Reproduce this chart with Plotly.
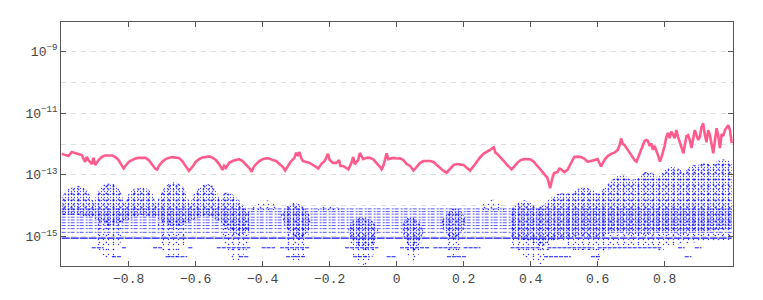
import plotly.graph_objects as go

# ---- pink error curve (x, log10 value) ----
pink_x = [-1.000,-0.990,-0.980,-0.970,-0.960,-0.950,-0.940,-0.930,-0.925,-0.920,-0.910,-0.905,-0.900,-0.890,-0.880,
          -0.870,-0.860,-0.850,-0.840,-0.830,-0.820,-0.815,-0.810,-0.800,-0.790,-0.780,-0.770,-0.760,-0.750,-0.740,
          -0.730,-0.720,-0.715,-0.710,-0.700,-0.690,-0.680,-0.670,-0.660,-0.650,-0.640,-0.630,-0.620,-0.610,-0.600,
          -0.590,-0.580,-0.570,-0.560,-0.550,-0.540,-0.530,-0.520,-0.515,-0.510,-0.500,-0.490,-0.480,-0.470,-0.460,
          -0.450,-0.440,-0.433,-0.425,-0.410,-0.400,-0.390,-0.380,-0.370,-0.360,-0.350,-0.340,-0.333,-0.325,-0.315,
          -0.305,-0.300,-0.295,-0.290,-0.285,-0.280,-0.270,-0.260,-0.250,-0.240,-0.234,-0.225,-0.215,-0.205,-0.200,
          -0.190,-0.180,-0.172,-0.168,-0.160,-0.150,-0.144,-0.135,-0.130,-0.125,-0.115,-0.110,-0.100,-0.090,-0.080,
          -0.070,-0.060,-0.050,-0.045,-0.040,-0.035,-0.030,-0.025,-0.010,0.000,0.010,0.020,0.030,0.040,0.050,
          0.060,0.070,0.080,0.090,0.100,0.110,0.120,0.130,0.140,0.149,0.160,0.170,0.180,0.190,0.200,
          0.210,0.219,0.230,0.240,0.250,0.260,0.270,0.280,0.290,0.295,0.300,0.310,0.320,0.330,0.343,
          0.350,0.360,0.370,0.380,0.390,0.400,0.410,0.420,0.430,0.440,0.450,0.455,0.458,0.465,0.470,
          0.480,0.485,0.490,0.500,0.510,0.520,0.530,0.540,0.550,0.560,0.570,0.580,0.590,0.600,0.610,
          0.620,0.630,0.640,0.650,0.660,0.665,0.670,0.675,0.680,0.690,0.700,0.710,0.716,0.720,0.730,
          0.740,0.745,0.750,0.755,0.760,0.765,0.770,0.780,0.786,0.790,0.800,0.805,0.810,0.815,0.820,
          0.830,0.835,0.840,0.850,0.856,0.860,0.865,0.870,0.875,0.880,0.885,0.890,0.900,0.905,0.910,
          0.915,0.920,0.925,0.930,0.935,0.945,0.950,0.955,0.960,0.965,0.970,0.975,0.980,0.990,0.995,1.000]
pink_log = [-12.32,-12.36,-12.39,-12.26,-12.29,-12.32,-12.36,-12.58,-12.42,-12.52,-12.65,-12.45,-12.68,-12.52,-12.42,
            -12.37,-12.36,-12.37,-12.42,-12.52,-12.71,-12.79,-12.71,-12.58,-12.52,-12.47,-12.45,-12.44,-12.45,-12.52,
            -12.65,-12.81,-12.83,-12.71,-12.58,-12.49,-12.45,-12.42,-12.44,-12.45,-12.55,-12.71,-12.87,-12.74,-12.58,
            -12.49,-12.44,-12.42,-12.40,-12.44,-12.52,-12.65,-12.84,-12.71,-12.78,-12.61,-12.55,-12.52,-12.49,-12.55,
            -12.65,-12.78,-12.90,-12.71,-12.55,-12.49,-12.46,-12.47,-12.52,-12.55,-12.65,-12.74,-12.86,-12.71,-12.55,
            -12.45,-12.28,-12.36,-12.26,-12.45,-12.55,-12.58,-12.61,-12.68,-12.74,-12.79,-12.65,-12.55,-12.32,-12.52,
            -12.61,-12.61,-12.52,-12.71,-12.71,-12.78,-12.82,-12.61,-12.42,-12.65,-12.52,-12.29,-12.49,-12.45,-12.45,
            -12.50,-12.61,-12.74,-12.82,-12.71,-12.52,-12.30,-12.49,-12.45,-12.47,-12.46,-12.52,-12.65,-12.71,-12.86,
            -12.74,-12.61,-12.55,-12.54,-12.55,-12.58,-12.68,-12.78,-12.87,-12.93,-12.78,-12.68,-12.65,-12.66,-12.68,
            -12.78,-12.86,-12.71,-12.55,-12.42,-12.31,-12.23,-12.18,-12.11,-12.29,-12.32,-12.42,-12.55,-12.68,-12.82,
            -12.74,-12.61,-12.52,-12.49,-12.49,-12.50,-12.58,-12.71,-12.84,-12.97,-13.10,-13.29,-13.43,-13.10,-12.94,
            -12.91,-12.80,-12.81,-12.91,-12.84,-12.61,-12.42,-12.41,-12.42,-12.47,-12.58,-12.55,-12.52,-12.49,-12.73,
            -12.52,-12.39,-12.32,-12.28,-12.19,-12.06,-11.82,-12.00,-12.03,-12.19,-12.36,-12.52,-12.57,-12.45,-12.13,
            -11.90,-11.87,-11.90,-12.06,-11.98,-12.19,-12.06,-12.36,-12.57,-12.45,-12.06,-11.77,-11.64,-11.81,-11.60,
            -11.81,-11.55,-11.77,-12.13,-12.30,-12.06,-11.74,-11.71,-11.87,-12.13,-11.81,-11.55,-11.87,-11.77,-11.45,
            -11.33,-11.71,-11.94,-11.55,-11.71,-12.30,-11.81,-11.49,-11.74,-12.13,-11.68,-11.74,-11.55,-11.39,-11.55,-11.97]

# ---- blue rounding-error cloud: dense regions (x, log10 value) ----
dense_polys = [
    [(-0.998,-13.68),(-0.98,-13.46),(-0.96,-13.36),(-0.94,-13.36),(-0.925,-13.49),(-0.912,-13.75),(-0.905,-13.88),
     (-0.895,-13.62),(-0.88,-13.36),(-0.865,-13.26),(-0.85,-13.27),(-0.835,-13.36),(-0.822,-13.60),(-0.813,-13.94),
     (-0.80,-13.62),(-0.785,-13.46),(-0.765,-13.42),(-0.745,-13.44),(-0.73,-13.58),(-0.718,-13.94),(-0.705,-13.62),
     (-0.69,-13.36),(-0.67,-13.23),(-0.65,-13.27),(-0.635,-13.42),(-0.622,-13.80),(-0.615,-13.90),(-0.605,-13.60),
     (-0.585,-13.36),(-0.565,-13.29),(-0.548,-13.36),(-0.535,-13.60),(-0.527,-13.85),(-0.515,-13.58),(-0.50,-13.55),
     (-0.48,-13.72),(-0.46,-13.97),(-0.44,-14.20),
     (-0.44,-14.85),(-0.48,-14.98),(-0.525,-14.52),(-0.57,-14.30),(-0.62,-14.52),(-0.665,-14.72),(-0.714,-14.40),
     (-0.765,-14.30),(-0.815,-14.52),(-0.86,-14.65),(-0.903,-14.40),(-0.95,-14.30),(-0.998,-14.30)],
    [(-0.345,-14.30),(-0.33,-14.04),(-0.31,-13.91),(-0.29,-13.94),(-0.27,-14.14),(-0.255,-14.40),(-0.265,-14.85),(-0.29,-15.11),(-0.31,-14.98),(-0.335,-14.62)],
    [(-0.145,-14.72),(-0.13,-14.46),(-0.11,-14.36),(-0.09,-14.40),(-0.07,-14.52),(-0.055,-14.78),(-0.065,-15.20),(-0.09,-15.43),(-0.12,-15.30),(-0.14,-15.04)],
    [(0.015,-14.62),(0.03,-14.40),(0.05,-14.36),(0.07,-14.52),(0.08,-14.85),(0.065,-15.27),(0.05,-15.50),(0.035,-15.27),(0.02,-14.95)],
    [(0.135,-14.52),(0.15,-14.20),(0.17,-14.07),(0.19,-14.14),(0.205,-14.40),(0.20,-14.78),(0.18,-15.11),(0.16,-15.04),(0.14,-14.78)],
    [(0.34,-14.14),(0.36,-13.91),(0.38,-13.81),(0.40,-13.91),(0.42,-14.07),(0.44,-13.97),(0.46,-13.75),(0.48,-13.62),(0.50,-13.59),
     (0.52,-13.62),(0.54,-13.46),(0.56,-13.39),(0.58,-13.46),(0.60,-13.62),(0.62,-13.42),(0.64,-13.17),(0.66,-13.04),(0.68,-13.00),
     (0.70,-13.17),(0.72,-13.10),(0.74,-12.91),(0.76,-12.91),(0.78,-13.10),(0.80,-12.84),(0.82,-12.74),(0.84,-12.78),(0.86,-12.91),
     (0.88,-12.68),(0.90,-12.68),(0.92,-12.58),(0.94,-12.71),(0.96,-12.52),(0.98,-12.49),(1.00,-12.58),
     (1.00,-14.72),(0.95,-14.78),(0.90,-14.85),(0.85,-14.91),(0.80,-14.85),(0.75,-14.91),(0.70,-14.91),(0.65,-14.85),(0.60,-15.04),
     (0.55,-14.98),(0.50,-15.04),(0.45,-15.17),(0.435,-15.43),(0.42,-15.24),(0.38,-15.11),(0.34,-15.04)],
]

# ---- blue sparse regions (tails below / scattered dots above) ----
sparse_polys = [
    [(-0.905,-14.46),(-0.815,-14.46),(-0.825,-15.27),(-0.845,-15.72),(-0.875,-15.72),(-0.895,-15.27)],
    [(-0.715,-14.46),(-0.625,-14.46),(-0.635,-15.27),(-0.655,-15.72),(-0.685,-15.72),(-0.705,-15.27)],
    [(-0.525,-14.52),(-0.44,-14.62),(-0.445,-15.37),(-0.47,-15.82),(-0.495,-15.72),(-0.515,-15.17)],
    [(-0.335,-14.78),(-0.26,-14.72),(-0.27,-15.43),(-0.29,-15.88),(-0.31,-15.82),(-0.33,-15.37)],
    [(-0.14,-15.11),(-0.06,-15.11),(-0.07,-15.62),(-0.09,-15.92),(-0.11,-15.92),(-0.13,-15.59)],
    [(0.025,-15.11),(0.075,-15.11),(0.065,-15.59),(0.05,-15.88),(0.04,-15.82),(0.03,-15.50)],
    [(0.14,-14.85),(0.20,-14.85),(0.19,-15.43),(0.175,-15.72),(0.16,-15.66),(0.145,-15.27)],
    [(0.34,-15.04),(0.46,-15.11),(0.45,-15.62),(0.435,-15.92),(0.41,-15.82),(0.37,-15.59),(0.35,-15.37)],
    [(0.48,-15.04),(1.00,-14.72),(1.00,-15.11),(0.90,-15.17),(0.80,-15.30),(0.79,-15.69),(0.78,-15.37),(0.70,-15.30),
     (0.62,-15.43),(0.60,-15.82),(0.585,-15.43),(0.52,-15.43)],
    [(-0.435,-14.14),(-0.42,-13.91),(-0.39,-13.81),(-0.37,-13.88),(-0.355,-14.14)],
    [(-0.245,-14.20),(-0.22,-14.01),(-0.19,-13.97),(-0.165,-14.14)],
    [(0.24,-14.20),(0.26,-13.91),(0.285,-13.78),(0.31,-13.94),(0.325,-14.20)],
]

# ---- quantised streak rows (log10 level, x ranges) ----
streak_full_levels = [-14.10, -14.19, -14.27, -14.37, -14.46, -14.55, -14.64, -14.74, -14.86]
streak_strong_level = -15.05
streak_mid_level = -15.36
streak_mid_ranges = [(-0.91,-0.875),(-0.82,-0.805),(-0.727,-0.697),(-0.622,-0.607),(-0.537,-0.437),(-0.403,-0.363),
                     (-0.348,-0.259),(-0.154,-0.055),(0.01,0.10),(0.11,0.19),(0.20,0.25),(0.34,0.43),(0.45,0.59),
                     (0.60,0.79),(0.84,0.86),(0.89,0.91)]
streak_low_level = -15.65
streak_low_ranges = [(-0.85,-0.82),(-0.69,-0.625),(-0.47,-0.44),(-0.33,-0.27),(-0.13,-0.08),(-0.03,0.0),
                     (0.15,0.21),(0.44,0.52),(0.58,0.61),(0.86,0.88)]

x_tick_vals = [-0.8, -0.6, -0.4, -0.2, 0, 0.2, 0.4, 0.6, 0.8]
y_tick_vals = [1e-15, 1e-13, 1e-11, 1e-9]
y_tick_text = ["10<sup>\u221215</sup>", "10<sup>\u221213</sup>", "10<sup>\u221211</sup>", "10<sup>\u22129</sup>"]
y_minor_vals = [1e-14, 1e-12, 1e-10]

BLUE = "#0000ff"
PINK = "#ff5c8d"


def polys_xy(polys):
    xs, ys = [], []
    for p in polys:
        for x, l in p:
            xs.append(x)
            ys.append(10 ** l)
        xs.append(None)
        ys.append(None)
    return xs, ys


def segs_xy(level, ranges):
    xs, ys = [], []
    for a, b in ranges:
        xs += [a, b, None]
        ys += [10 ** level, 10 ** level, None]
    return xs, ys


def stipple(xs, ys, size, solidity, alpha):
    return go.Scatter(x=xs, y=ys, mode="lines", line=dict(width=0), fill="toself",
                      fillpattern=dict(shape=".", size=size, solidity=solidity,
                                       fgcolor=BLUE, fgopacity=alpha, bgcolor="rgba(0,0,0,0)"),
                      hoverinfo="skip", showlegend=False)


fig = go.Figure()

sx, sy = polys_xy(sparse_polys)
fig.add_trace(stipple(sx, sy, 5, 0.06, 0.8))
fig.add_trace(stipple(sx, sy, 7, 0.04, 0.8))

# streaks
xs, ys = [], []
for lv in streak_full_levels:
    a, b = segs_xy(lv, [(-1.0, 1.0)])
    xs += a; ys += b
fig.add_trace(go.Scatter(x=xs, y=ys, mode="lines", line=dict(color=BLUE, width=1, dash="4px,2px,2px,1px"),
                         opacity=0.65, hoverinfo="skip", showlegend=False))
a, b = segs_xy(streak_strong_level, [(-1.0, 1.0)])
fig.add_trace(go.Scatter(x=a, y=b, mode="lines", line=dict(color=BLUE, width=1.2, dash="8px,1px"),
                         opacity=0.95, hoverinfo="skip", showlegend=False))
xs, ys = segs_xy(streak_mid_level, streak_mid_ranges)
a, b = segs_xy(streak_low_level, streak_low_ranges)
fig.add_trace(go.Scatter(x=xs + a, y=ys + b, mode="lines", line=dict(color=BLUE, width=1, dash="4px,1px"),
                         opacity=0.9, hoverinfo="skip", showlegend=False))

dx, dy = polys_xy(dense_polys)
fig.add_trace(stipple(dx, dy, 3, 0.14, 0.75))
fig.add_trace(stipple(dx, dy, 5, 0.10, 0.75))
fig.add_trace(stipple(dx, dy, 7, 0.08, 0.75))

fig.add_trace(go.Scatter(x=pink_x, y=[10 ** v for v in pink_log], mode="lines",
                         line=dict(color=PINK, width=2.6), hoverinfo="skip", showlegend=False))

AX = "#555555"
FONT = dict(family="Liberation Mono, DejaVu Sans Mono, monospace", size=13, color="#444444")

fig.update_layout(
    width=763, height=300,
    margin=dict(l=61, r=30, t=22, b=34),
    paper_bgcolor="white", plot_bgcolor="white",
    font=FONT,
    xaxis=dict(range=[-1.002, 1.004], tickvals=x_tick_vals, ticks="inside", ticklen=5,
               tickcolor=AX, showline=True, linecolor=AX, linewidth=1, mirror="ticks",
               showgrid=False, zeroline=False, tickfont=FONT),
    yaxis=dict(type="log", range=[-15.95, -8.05], tickvals=y_tick_vals, ticktext=y_tick_text,
               ticks="inside", ticklen=5, tickcolor=AX, showline=True, linecolor=AX, linewidth=1,
               mirror="ticks", showgrid=True, gridcolor="#dddddd", griddash="5px,5px", gridwidth=1,
               zeroline=False, tickfont=FONT,
               minor=dict(tickvals=y_minor_vals, showgrid=True, gridcolor="#dddddd",
                          griddash="5px,5px", ticklen=0)),
)

# remove the default page margin so the 763x300 figure fills the window exactly
fig.write_html("out.html", config={"displayModeBar": False},
               post_script="document.body.style.margin='0';document.body.style.overflow='hidden';")
